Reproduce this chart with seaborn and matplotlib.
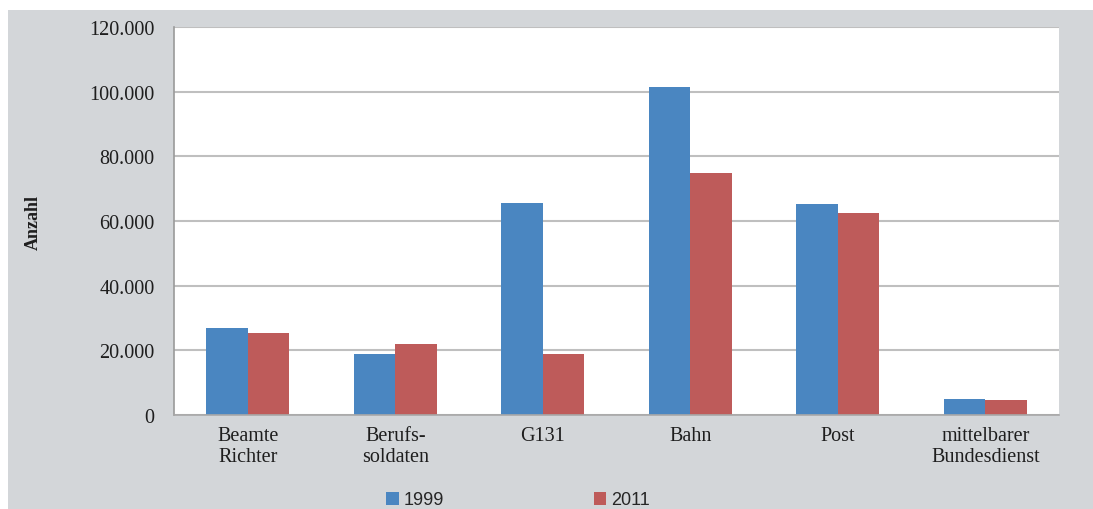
import numpy as np
import pandas as pd
import matplotlib
matplotlib.use("Agg")
import matplotlib.pyplot as plt
from matplotlib.patches import Rectangle, Patch
from matplotlib.ticker import FuncFormatter
import seaborn as sns

# data
categories = ["Beamte\nRichter", "Berufs-\nsoldaten", "G131", "Bahn", "Post",
              "mittelbarer\nBundesdienst"]
years = ["1999", "2011"]
values_1999 = [26900, 19000, 65700, 101400, 65200, 4800]
values_2011 = [25500, 22000, 18900, 74800, 62400, 4600]
y_ticks = [0, 20000, 40000, 60000, 80000, 100000, 120000]

colors = {"1999": "#4A86C1", "2011": "#BE5B5A"}
bg_gray = "#D3D6D9"
grid_gray = "#BFBFBF"

df = pd.DataFrame({
    "Kategorie": categories * 2,
    "Jahr": [years[0]] * len(categories) + [years[1]] * len(categories),
    "Anzahl": values_1999 + values_2011,
})

sns.set_style("white")
plt.rcParams["font.family"] = ["Liberation Serif", "DejaVu Serif"]

fig = plt.figure(figsize=(10.93, 5.10), dpi=100, facecolor="white")
# gray chart frame, offset slightly from the top/left edge like the scan
fig.patches.append(Rectangle((8 / 1093, 0), 1 - 8 / 1093, 1 - 11 / 510,
                             transform=fig.transFigure, facecolor=bg_gray,
                             edgecolor="none", zorder=-10))

ax = fig.add_axes([174 / 1093, 1 - 416 / 510, (1059 - 174) / 1093, (416 - 28) / 510])
ax.set_facecolor("white")

sns.barplot(data=df, x="Kategorie", y="Anzahl", hue="Jahr", order=categories,
            hue_order=years, palette=colors, width=0.565, saturation=1,
            linewidth=0, legend=False, ax=ax)

ax.set_ylim(0, 120000)
ax.set_yticks(y_ticks)
ax.yaxis.set_major_formatter(FuncFormatter(lambda v, p: f"{v:,.0f}".replace(",", ".")))
ax.grid(axis="y", color=grid_gray, linewidth=1.5)
ax.set_axisbelow(True)

for side in ["top", "right"]:
    ax.spines[side].set_visible(False)
ax.spines["left"].set_color("#9A9A9A")
ax.spines["bottom"].set_color("#A8A8A8")
ax.spines["left"].set_linewidth(1.2)
ax.spines["bottom"].set_linewidth(1.2)

ax.tick_params(axis="y", direction="out", length=5, width=1.2, color="#9A9A9A",
               pad=9, labelsize=14.5, labelcolor="#1E1E1E")
ax.tick_params(axis="x", length=0, pad=8, labelsize=14.5, labelcolor="#1E1E1E")
for lbl in ax.get_xticklabels():
    lbl.set_linespacing(1.1)

ax.set_xlabel("")
ax.set_ylabel("")
fig.text(33 / 1093, 1 - 222 / 510, "Anzahl", rotation=90, ha="center",
         va="center", fontsize=13, fontweight="bold", color="#1E1E1E")

handles = [Patch(facecolor=colors[y], edgecolor="none", label=y) for y in years]
fig.legend(handles=handles, loc="center", bbox_to_anchor=(518 / 1093, 1 - 501 / 510),
           ncol=2, frameon=False, handlelength=0.7, handleheight=0.7,
           handletextpad=0.25, columnspacing=8.3,
           prop={"family": "Liberation Sans", "size": 13})

fig.savefig("out.png", dpi=100, facecolor=fig.get_facecolor())
